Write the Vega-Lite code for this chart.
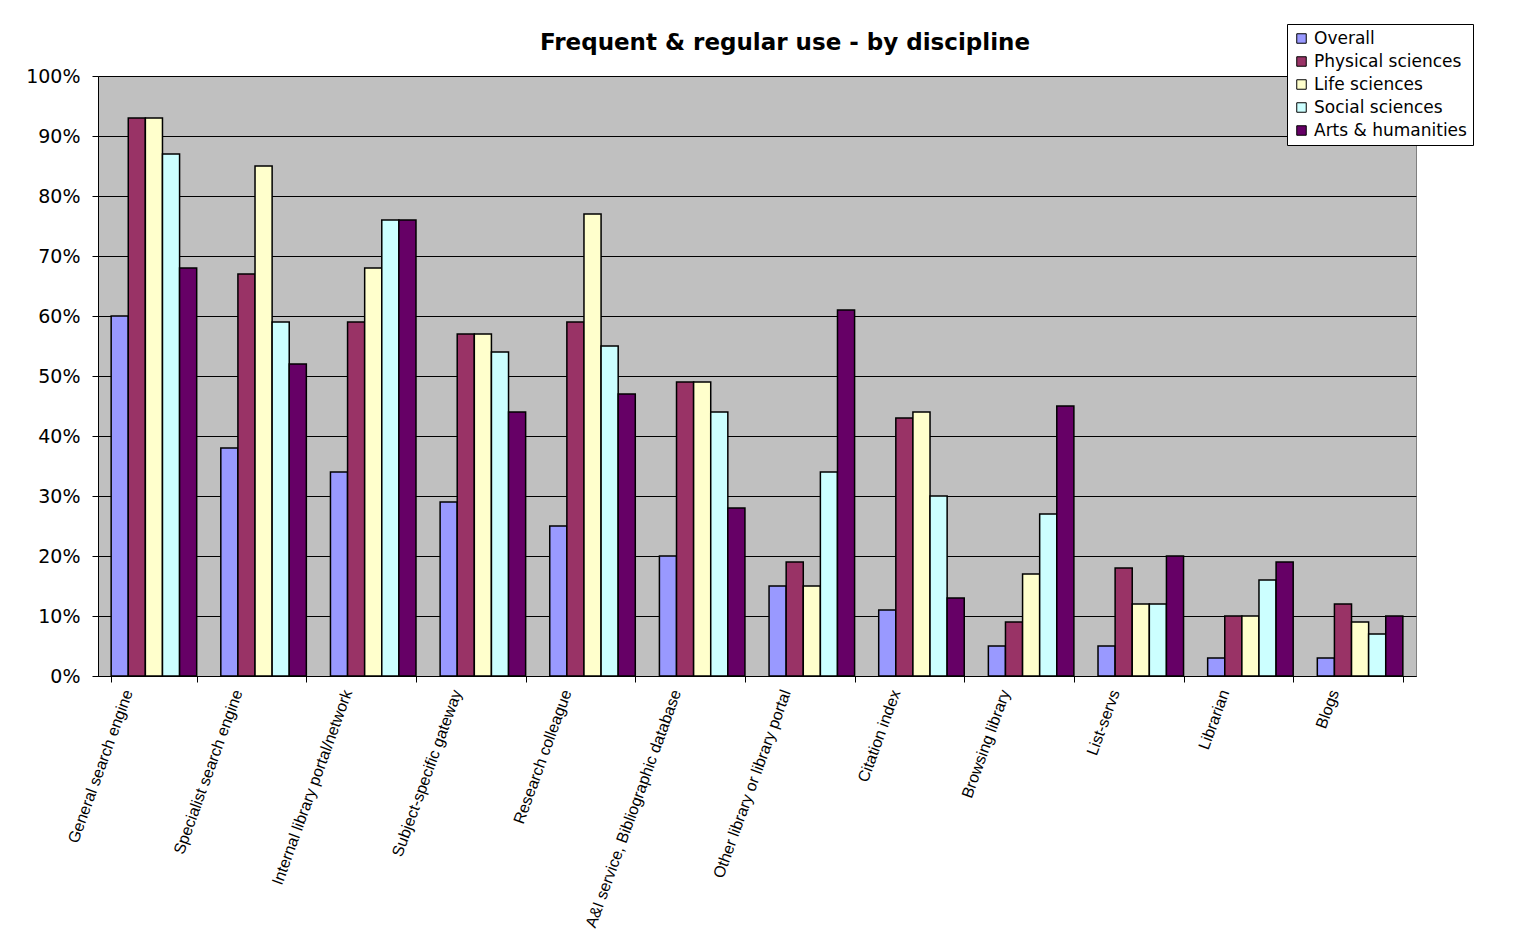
{
  "$schema": "https://vega.github.io/schema/vega-lite/v6.json",
  "width": 1318,
  "height": 600,
  "autosize": "none",
  "padding": {"left": 98, "top": 76, "right": 123, "bottom": 255},
  "background": "white",
  "title": {
    "text": "Frequent & regular use - by discipline",
    "font": "DejaVu Sans",
    "fontSize": 23,
    "fontWeight": "bold",
    "color": "black",
    "anchor": "middle",
    "dx": 28,
    "offset": -31
  },
  "data": {
    "values": [
      {"source": "General search engine", "discipline": "Overall", "pct": 60},
      {"source": "General search engine", "discipline": "Physical sciences", "pct": 93},
      {"source": "General search engine", "discipline": "Life sciences", "pct": 93},
      {"source": "General search engine", "discipline": "Social sciences", "pct": 87},
      {"source": "General search engine", "discipline": "Arts & humanities", "pct": 68},
      {"source": "Specialist search engine", "discipline": "Overall", "pct": 38},
      {"source": "Specialist search engine", "discipline": "Physical sciences", "pct": 67},
      {"source": "Specialist search engine", "discipline": "Life sciences", "pct": 85},
      {"source": "Specialist search engine", "discipline": "Social sciences", "pct": 59},
      {"source": "Specialist search engine", "discipline": "Arts & humanities", "pct": 52},
      {"source": "Internal library portal/network", "discipline": "Overall", "pct": 34},
      {"source": "Internal library portal/network", "discipline": "Physical sciences", "pct": 59},
      {"source": "Internal library portal/network", "discipline": "Life sciences", "pct": 68},
      {"source": "Internal library portal/network", "discipline": "Social sciences", "pct": 76},
      {"source": "Internal library portal/network", "discipline": "Arts & humanities", "pct": 76},
      {"source": "Subject-specific gateway", "discipline": "Overall", "pct": 29},
      {"source": "Subject-specific gateway", "discipline": "Physical sciences", "pct": 57},
      {"source": "Subject-specific gateway", "discipline": "Life sciences", "pct": 57},
      {"source": "Subject-specific gateway", "discipline": "Social sciences", "pct": 54},
      {"source": "Subject-specific gateway", "discipline": "Arts & humanities", "pct": 44},
      {"source": "Research colleague", "discipline": "Overall", "pct": 25},
      {"source": "Research colleague", "discipline": "Physical sciences", "pct": 59},
      {"source": "Research colleague", "discipline": "Life sciences", "pct": 77},
      {"source": "Research colleague", "discipline": "Social sciences", "pct": 55},
      {"source": "Research colleague", "discipline": "Arts & humanities", "pct": 47},
      {"source": "A&I service, Bibliographic database", "discipline": "Overall", "pct": 20},
      {"source": "A&I service, Bibliographic database", "discipline": "Physical sciences", "pct": 49},
      {"source": "A&I service, Bibliographic database", "discipline": "Life sciences", "pct": 49},
      {"source": "A&I service, Bibliographic database", "discipline": "Social sciences", "pct": 44},
      {"source": "A&I service, Bibliographic database", "discipline": "Arts & humanities", "pct": 28},
      {"source": "Other library or library portal", "discipline": "Overall", "pct": 15},
      {"source": "Other library or library portal", "discipline": "Physical sciences", "pct": 19},
      {"source": "Other library or library portal", "discipline": "Life sciences", "pct": 15},
      {"source": "Other library or library portal", "discipline": "Social sciences", "pct": 34},
      {"source": "Other library or library portal", "discipline": "Arts & humanities", "pct": 61},
      {"source": "Citation index", "discipline": "Overall", "pct": 11},
      {"source": "Citation index", "discipline": "Physical sciences", "pct": 43},
      {"source": "Citation index", "discipline": "Life sciences", "pct": 44},
      {"source": "Citation index", "discipline": "Social sciences", "pct": 30},
      {"source": "Citation index", "discipline": "Arts & humanities", "pct": 13},
      {"source": "Browsing library", "discipline": "Overall", "pct": 5},
      {"source": "Browsing library", "discipline": "Physical sciences", "pct": 9},
      {"source": "Browsing library", "discipline": "Life sciences", "pct": 17},
      {"source": "Browsing library", "discipline": "Social sciences", "pct": 27},
      {"source": "Browsing library", "discipline": "Arts & humanities", "pct": 45},
      {"source": "List-servs", "discipline": "Overall", "pct": 5},
      {"source": "List-servs", "discipline": "Physical sciences", "pct": 18},
      {"source": "List-servs", "discipline": "Life sciences", "pct": 12},
      {"source": "List-servs", "discipline": "Social sciences", "pct": 12},
      {"source": "List-servs", "discipline": "Arts & humanities", "pct": 20},
      {"source": "Librarian", "discipline": "Overall", "pct": 3},
      {"source": "Librarian", "discipline": "Physical sciences", "pct": 10},
      {"source": "Librarian", "discipline": "Life sciences", "pct": 10},
      {"source": "Librarian", "discipline": "Social sciences", "pct": 16},
      {"source": "Librarian", "discipline": "Arts & humanities", "pct": 19},
      {"source": "Blogs", "discipline": "Overall", "pct": 3},
      {"source": "Blogs", "discipline": "Physical sciences", "pct": 12},
      {"source": "Blogs", "discipline": "Life sciences", "pct": 9},
      {"source": "Blogs", "discipline": "Social sciences", "pct": 7},
      {"source": "Blogs", "discipline": "Arts & humanities", "pct": 10}
    ]
  },
  "mark": {"type": "bar", "stroke": "black", "strokeWidth": 1.5},
  "encoding": {
    "x": {
      "field": "source",
      "type": "nominal",
      "sort": null,
      "scale": {"paddingInner": 0.22, "paddingOuter": 0.12},
      "axis": {
        "title": null,
        "labelAngle": -70,
        "labelAlign": "right",
        "labelBaseline": "middle",
        "labelFont": "Liberation Sans",
        "labelFontSize": 16,
        "labelColor": "black",
        "labelPadding": 8,
        "labelOffset": -26,
        "labelLimit": 400,
        "tickBand": "extent",
        "tickSize": 6,
        "tickColor": "black",
        "domainColor": "black",
        "grid": false
      }
    },
    "xOffset": {
      "field": "discipline",
      "type": "nominal",
      "sort": ["Overall", "Physical sciences", "Life sciences", "Social sciences", "Arts & humanities"],
      "scale": {"paddingInner": 0, "paddingOuter": 0}
    },
    "y": {
      "field": "pct",
      "type": "quantitative",
      "scale": {"domain": [0, 100], "nice": false},
      "axis": {
        "title": null,
        "values": [0, 10, 20, 30, 40, 50, 60, 70, 80, 90, 100],
        "labelExpr": "datum.value + '%'",
        "labelFont": "DejaVu Sans",
        "labelFontSize": 19,
        "labelColor": "black",
        "labelPadding": 12,
        "tickSize": 6,
        "tickColor": "black",
        "domainColor": "black",
        "grid": true,
        "gridColor": "black",
        "gridOpacity": 1,
        "gridWidth": 1
      }
    },
    "color": {
      "field": "discipline",
      "type": "nominal",
      "sort": ["Overall", "Physical sciences", "Life sciences", "Social sciences", "Arts & humanities"],
      "scale": {
        "domain": ["Overall", "Physical sciences", "Life sciences", "Social sciences", "Arts & humanities"],
        "range": ["#9999FF", "#993366", "#FFFFCC", "#CCFFFF", "#660066"]
      },
      "legend": {
        "title": null,
        "orient": "none",
        "legendX": 1189,
        "legendY": -52,
        "symbolType": "square",
        "symbolSize": 90,
        "symbolStrokeColor": "black",
        "symbolStrokeWidth": 1,
        "symbolOpacity": 1,
        "labelFont": "DejaVu Sans",
        "labelFontSize": 17,
        "labelColor": "black",
        "labelLimit": 300,
        "rowPadding": 5,
        "padding": 6,
        "strokeColor": "black",
        "fillColor": "white"
      }
    }
  },
  "config": {
    "view": {"fill": "#C0C0C0", "stroke": "#808080", "strokeWidth": 1},
    "axis": {"domainWidth": 1, "tickWidth": 1}
  }
}
